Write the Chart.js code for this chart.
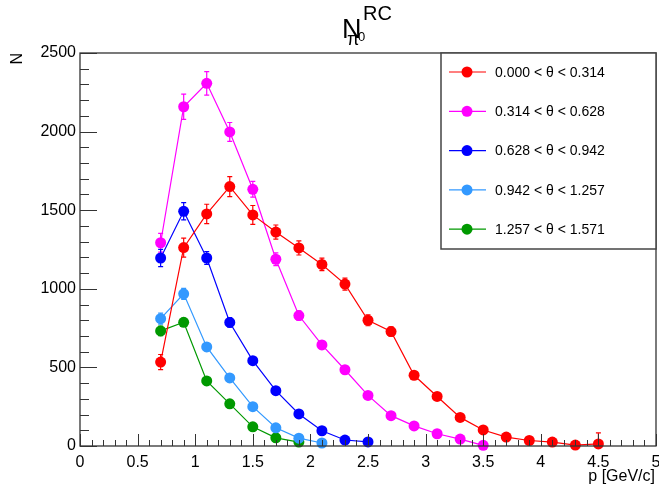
<!DOCTYPE html>
<html>
<head>
<meta charset="utf-8">
<script src="https://cdn.jsdelivr.net/npm/chart.js@4.4.0/dist/chart.umd.min.js"></script>
<style>
  body { margin: 0; background: #fff; }
  canvas { display: block; }
</style>
</head>
<body>
<canvas id="pionChart" width="659" height="488"></canvas>
<script>
// momentum bins and counts per theta slice
var pRed = [0.7, 0.9, 1.1, 1.3, 1.5, 1.7, 1.9, 2.1, 2.3, 2.5, 2.7, 2.9, 3.1, 3.3, 3.5, 3.7, 3.9, 4.1, 4.3, 4.5];
var nRed = [534, 1262, 1476, 1650, 1470, 1361, 1260, 1155, 1030, 800, 728, 450, 315, 182, 102, 57, 35, 25, 6, 13];
var eRed = [48, 60, 62, 64, 60, 45, 45, 40, 38, 35, 30, 20, 18, 15, 12, 10, 8, 8, 5, 70];

var pMagenta = [0.7, 0.9, 1.1, 1.3, 1.5, 1.7, 1.9, 2.1, 2.3, 2.5, 2.7, 2.9, 3.1, 3.3, 3.5];
var nMagenta = [1293, 2158, 2307, 1998, 1633, 1188, 830, 643, 485, 322, 193, 128, 78, 44, 4];
var eMagenta = [60, 80, 75, 60, 50, 40, 30, 25, 20, 18, 15, 12, 10, 8, 5];

var pBlue = [0.7, 0.9, 1.1, 1.3, 1.5, 1.7, 1.9, 2.1, 2.3, 2.5];
var nBlue = [1196, 1493, 1196, 786, 543, 352, 204, 97, 38, 26];
var eBlue = [55, 55, 40, 30, 20, 15, 12, 10, 8, 6];

var pAzure = [0.7, 0.9, 1.1, 1.3, 1.5, 1.7, 1.9, 2.1];
var nAzure = [810, 968, 630, 433, 250, 116, 50, 19];
var eAzure = [35, 35, 20, 15, 12, 10, 8, 6];

var pGreen = [0.7, 0.9, 1.1, 1.3, 1.5, 1.7, 1.9];
var nGreen = [732, 787, 414, 268, 122, 52, 25];
var eGreen = [30, 25, 15, 12, 10, 8, 6];

var thetaLabels = ['0.000 < \u03b8 < 0.314', '0.314 < \u03b8 < 0.628', '0.628 < \u03b8 < 0.942',
                   '0.942 < \u03b8 < 1.257', '1.257 < \u03b8 < 1.571'];
var colors = ['#ff0000', '#ff00ff', '#0000ff', '#3399ff', '#009900'];

var xTicks = [0, 0.5, 1, 1.5, 2, 2.5, 3, 3.5, 4, 4.5, 5];
var yTicks = [0, 500, 1000, 1500, 2000, 2500];

var FONT = 'Liberation Sans, Arial, Helvetica, sans-serif';

function points(xs, ys, es) {
  var out = [];
  for (var i = 0; i < xs.length; i++) out.push({ x: xs[i], y: ys[i], err: es[i] });
  return out;
}

var series = [
  points(pRed, nRed, eRed),
  points(pMagenta, nMagenta, eMagenta),
  points(pBlue, nBlue, eBlue),
  points(pAzure, nAzure, eAzure),
  points(pGreen, nGreen, eGreen)
];

var datasets = series.map(function(d, i) {
  return {
    label: thetaLabels[i],
    data: d,
    showLine: true,
    borderColor: colors[i],
    backgroundColor: colors[i],
    borderWidth: 1.2,
    pointRadius: 5.5,
    pointHoverRadius: 5.5,
    pointBorderWidth: 0,
    pointBackgroundColor: colors[i],
    tension: 0,
    clip: false,
    order: i
  };
});

// vertical error bars with small end caps
var errorBars = {
  id: 'errorBars',
  beforeDatasetsDraw: function(chart) {
    var ctx = chart.ctx, xs = chart.scales.x, ys = chart.scales.y;
    ctx.save();
    chart.data.datasets.forEach(function(ds) {
      ctx.strokeStyle = ds.borderColor;
      ctx.lineWidth = 1.2;
      ds.data.forEach(function(pt) {
        var px = xs.getPixelForValue(pt.x);
        var top = ys.getPixelForValue(pt.y + pt.err);
        var bot = ys.getPixelForValue(Math.max(pt.y - pt.err, 0));
        ctx.beginPath();
        ctx.moveTo(px, top); ctx.lineTo(px, bot);
        ctx.moveTo(px - 2.5, top); ctx.lineTo(px + 2.5, top);
        ctx.moveTo(px - 2.5, bot); ctx.lineTo(px + 2.5, bot);
        ctx.stroke();
      });
    });
    ctx.restore();
  }
};

// frame, inward ticks, titles and legend box
var decorations = {
  id: 'decorations',
  afterDraw: function(chart) {
    var ctx = chart.ctx, xs = chart.scales.x, ys = chart.scales.y;
    var left = xs.left, right = xs.right, top = ys.top, bottom = ys.bottom;
    ctx.save();
    ctx.strokeStyle = '#333';
    ctx.lineWidth = 1.3;
    ctx.strokeRect(left, top, right - left, bottom - top);

    ctx.lineWidth = 1;
    ctx.beginPath();
    var v, px, py, major;
    for (v = 0; v <= 50; v++) {
      px = Math.round(xs.getPixelForValue(v / 10)) + 0.5;
      major = v % 5 === 0;
      ctx.moveTo(px, bottom);
      ctx.lineTo(px, bottom - (major ? 12 : 6));
    }
    for (v = 0; v <= 25; v++) {
      py = Math.round(ys.getPixelForValue(v * 100)) + 0.5;
      major = v % 5 === 0;
      ctx.moveTo(left, py);
      ctx.lineTo(left + (major ? 17 : 9), py);
    }
    ctx.stroke();

    ctx.fillStyle = '#000';
    ctx.textBaseline = 'alphabetic';

    // x axis title, right aligned with the frame
    ctx.textAlign = 'right';
    ctx.font = '16px ' + FONT;
    ctx.fillText('p [GeV/c]', right - 1, 481);

    // title: N with superscript RC and subscript pi0
    ctx.textAlign = 'left';
    ctx.font = '27px ' + FONT;
    ctx.fillText('N', 342, 38);
    ctx.font = '20px ' + FONT;
    ctx.fillText('RC', 363, 20);
    ctx.font = '18px ' + FONT;
    ctx.fillText('\u03c0', 347, 45);
    ctx.font = '13px ' + FONT;
    ctx.fillText('0', 358, 41);

    // legend
    var lx = 441, ly = 53, lw = 215, lh = 196;
    ctx.fillStyle = '#fff';
    ctx.fillRect(lx, ly, lw, lh);
    ctx.strokeStyle = '#444';
    ctx.lineWidth = 1.5;
    ctx.strokeRect(lx, ly, lw, lh);
    ctx.font = '14px ' + FONT;
    ctx.textBaseline = 'middle';
    chart.data.datasets.forEach(function(ds, i) {
      var cy = 72 + i * 39.3;
      ctx.strokeStyle = ds.borderColor;
      ctx.lineWidth = 1.2;
      ctx.beginPath();
      ctx.moveTo(449, cy); ctx.lineTo(486, cy);
      ctx.stroke();
      ctx.fillStyle = ds.borderColor;
      ctx.beginPath();
      ctx.arc(467, cy, 5.5, 0, Math.PI * 2);
      ctx.fill();
      ctx.fillStyle = '#000';
      ctx.fillText(ds.label, 495, cy + 1);
    });
    ctx.restore();
  }
};

function plainLabel(value) { return String(value); }

new Chart(document.getElementById('pionChart'), {
  type: 'scatter',
  data: { datasets: datasets },
  options: {
    responsive: false,
    animation: false,
    events: [],
    layout: { autoPadding: false, padding: { left: 0, right: 3, top: 53, bottom: 0 } },
    plugins: {
      legend: { display: false },
      title: { display: false },
      tooltip: { enabled: false }
    },
    scales: {
      x: {
        type: 'linear',
        min: 0,
        max: 5,
        afterFit: function(s) {
          s.height = 42;
          s.paddingLeft = 0;
          s.paddingRight = 0;
        },
        afterBuildTicks: function(s) { s.ticks = xTicks.map(function(v) { return { value: v }; }); },
        grid: { display: false, drawTicks: false },
        border: { display: false },
        ticks: {
          color: '#000',
          font: { family: FONT, size: 16 },
          padding: 7,
          maxRotation: 0,
          autoSkip: false,
          callback: plainLabel
        }
      },
      y: {
        type: 'linear',
        min: 0,
        max: 2500,
        afterFit: function(s) {
          s.width = 80;
          s.paddingTop = 0;
          s.paddingBottom = 0;
        },
        afterBuildTicks: function(s) { s.ticks = yTicks.map(function(v) { return { value: v }; }); },
        grid: { display: false, drawTicks: false },
        border: { display: false },
        ticks: {
          color: '#000',
          font: { family: FONT, size: 16 },
          padding: 4,
          autoSkip: false,
          callback: plainLabel
        },
        title: {
          display: true,
          text: 'N',
          align: 'end',
          color: '#000',
          font: { family: FONT, size: 16 },
          padding: { top: 8, bottom: 0 }
        }
      }
    }
  },
  plugins: [errorBars, decorations]
});
</script>
</body>
</html>
